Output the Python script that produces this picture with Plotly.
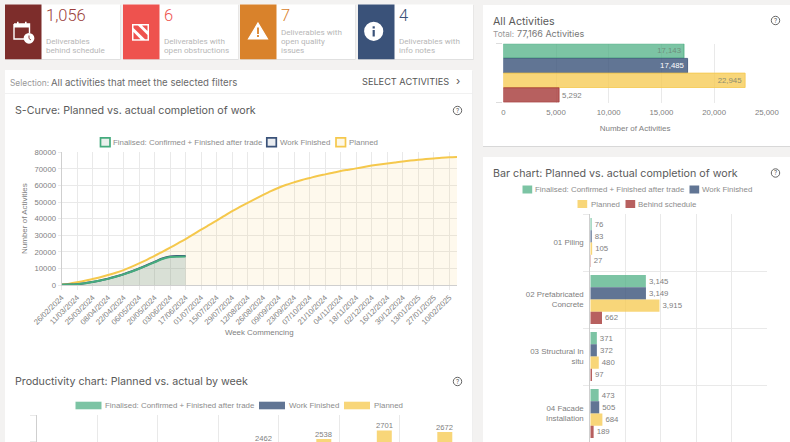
import plotly.graph_objects as go

W, H = 790, 442
CHART_FONT = "Liberation Sans"
UI_FONT = "Inter"
BODY_FONT = "Roboto"

GREEN, BLUE, YELLOW, RED = "#45ab7d", "#3a5279", "#f5c84c", "#a53837"
GREEN_BAR = "rgba(69,171,125,0.7)"
BLUE_BAR = "rgba(58,82,121,0.8)"
YELLOW_BAR = "rgba(245,200,76,0.75)"
RED_BAR = "rgba(165,56,55,0.8)"
GRID = "#e9e9e9"
AXIS = "#cfcfcf"
TICK_TXT = "#808080"

# ── data ──────────────────────────────────────────────────────────────────────
weeks = [
    "26/02/2024", "04/03/2024", "11/03/2024", "18/03/2024", "25/03/2024", "01/04/2024",
    "08/04/2024", "15/04/2024", "22/04/2024", "29/04/2024", "06/05/2024", "13/05/2024",
    "20/05/2024", "27/05/2024", "03/06/2024", "10/06/2024", "17/06/2024", "24/06/2024",
    "01/07/2024", "08/07/2024", "15/07/2024", "22/07/2024", "29/07/2024", "05/08/2024",
    "12/08/2024", "19/08/2024", "26/08/2024", "02/09/2024", "09/09/2024", "16/09/2024",
    "23/09/2024", "30/09/2024", "07/10/2024", "14/10/2024", "21/10/2024", "28/10/2024",
    "04/11/2024", "11/11/2024", "18/11/2024", "25/11/2024", "02/12/2024", "09/12/2024",
    "16/12/2024", "23/12/2024", "30/12/2024", "06/01/2025", "13/01/2025", "20/01/2025",
    "27/01/2025", "03/02/2025", "10/02/2025", "17/02/2025",
]
planned = [
    300, 800, 1600, 2500, 3600, 4700, 6000, 7400, 9000, 10900, 13000, 15200,
    17500, 20000, 22500, 25100, 27700, 30500, 33400, 36100, 38800, 41700, 44600, 47100,
    49500, 51900, 54300, 56600, 58600, 60400, 61900, 63300, 64500, 65700, 66700, 67700,
    68700, 69500, 70300, 71200, 72000, 72700, 73300, 73900, 74500, 75000, 75500, 75900,
    76300, 76700, 77000, 77166,
]
finalised = [100, 250, 500, 1000, 1800, 2700, 3700, 5000, 6400, 8000, 9800, 11700,
             13700, 15700, 16900, 17100, 17143]
work_finished = [100, 260, 520, 1030, 1850, 2760, 3780, 5100, 6520, 8140, 9960, 11900,
                 13950, 16000, 17200, 17440, 17485]

all_cat = ["All Activities"]
all_finalised = [17143]
all_finished = [17485]
all_planned = [22945]
all_behind = [5292]

trades = ["01 Piling", "02 Prefabricated<br>Concrete", "03 Structural In<br>situ", "04 Facade<br>Installation"]
trade_finalised = [76, 3145, 371, 473]
trade_finished = [83, 3149, 372, 505]
trade_planned = [105, 3915, 480, 684]
trade_behind = [27, 662, 97, 189]

prod_weeks = ["06/05/2024", "13/05/2024", "20/05/2024", "27/05/2024", "03/06/2024", "10/06/2024", "17/06/2024"]
prod_finalised = [1800, 1900, 2000, 2000, 1200, 200, 43]
prod_finished = [1820, 1940, 2050, 2050, 1200, 240, 45]
prod_planned = [2200, 2300, 2350, 2462, 2538, 2701, 2672]

tile_numbers = ["1,056", "6", "7", "4"]
tile_colors = ["#7d2d2b", "#ee524e", "#d9822b", "#3a5279"]
number_colors = ["#9c3f3c", "#ee524e", "#d9822b", "#3a5279"]
tile_lines = [
    ["Deliverables", "behind schedule"],
    ["Deliverables with", "open obstructions"],
    ["Deliverables with", "open quality", "issues"],
    ["Deliverables with", "info notes"],
]


# ── pixel helpers ─────────────────────────────────────────────────────────────
def X(v):
    return v / W


def Y(v):
    return 1 - v / H


def rect(x0, y0, x1, y1, fill, line=None, lw=0):
    return dict(type="rect", xref="paper", yref="paper", layer="below",
                x0=X(x0), x1=X(x1), y0=Y(y0), y1=Y(y1), fillcolor=fill,
                line=dict(color=line, width=lw) if line else dict(width=0))


def circle(cx, cy, r, fill, line=None, lw=0):
    return dict(type="circle", xref="paper", yref="paper", layer="below",
                x0=X(cx - r), x1=X(cx + r), y0=Y(cy - r), y1=Y(cy + r), fillcolor=fill,
                line=dict(color=line, width=lw) if line else dict(width=0))


def poly(points, fill=None, line=None, lw=0, close=True):
    d = "M" + " L".join(f"{X(a):.5f},{Y(b):.5f}" for a, b in points) + (" Z" if close else "")
    return dict(type="path", xref="paper", yref="paper", layer="below", path=d,
                fillcolor=fill if fill else "rgba(0,0,0,0)",
                line=dict(color=line, width=lw) if line else dict(width=0))


def label(x, y, text, size=9, color="#777", family=BODY_FONT, anchor="left", weight=None):
    font = dict(size=size, color=color, family=family)
    if weight:
        font["weight"] = weight
    return dict(xref="paper", yref="paper", x=X(x - 1.3 if anchor == "left" else x), y=Y(y), text=text,
                showarrow=False, xanchor=anchor, yanchor="middle", borderpad=0, font=font)


shapes, notes = [], []

# ── panels ────────────────────────────────────────────────────────────────────
shapes += [
    rect(5.5, 70.5, 473, 442, "#dedede"),
    rect(5, 70, 472.5, 442, "#ffffff"),
    rect(5, 93, 472.5, 93.7, "#ececec"),
    rect(483, 5.5, 790, 147, "#d8d8d8"),
    rect(483, 5, 790, 146, "#ffffff"),
    rect(483, 157, 790, 442, "#ffffff"),
]

# KPI tiles
tile_x = [5, 123, 240, 358]
for i, x0 in enumerate(tile_x):
    shapes.append(rect(x0 + 0.4, 5, x0 + 115.4, 60, "#d6d6d6"))
    shapes.append(rect(x0, 4.5, x0 + 115, 59.3, "#ffffff"))
    shapes.append(rect(x0, 4.5, x0 + 36.5, 59.3, tile_colors[i]))
    notes.append(label(x0 + 41, 15.5, tile_numbers[i], 16.5, number_colors[i], BODY_FONT, weight=300))
    n = len(tile_lines[i])
    for j, line_txt in enumerate(tile_lines[i]):
        notes.append(label(x0 + 41.5, 49.7 - 9 * (n - 1 - j), line_txt, 8.1, "#b7b7b7", BODY_FONT))

# calendar icon
shapes += [
    poly([(14, 24), (29.5, 24), (29.5, 33)], None, "#ffffff", 1.4, close=False),
    poly([(14, 24), (14, 39), (24, 39)], None, "#ffffff", 1.4, close=False),
    rect(14, 24, 29.5, 27.5, "#ffffff"),
    rect(17, 21.8, 18.6, 25, "#ffffff"),
    rect(25, 21.8, 26.6, 25, "#ffffff"),
    circle(29, 38.3, 5.4, "#ffffff"),
    poly([(29, 35.5), (29, 38.5), (31, 40)], None, tile_colors[0], 0.9, close=False),
]
# obstruction icon
shapes += [
    rect(132, 24, 149, 40.7, "#ffffff"),
    poly([(133.5, 25.5), (138, 25.5), (147.5, 35), (147.5, 39.2), (145, 39.2), (133.5, 28)], tile_colors[1]),
    poly([(142, 25.5), (147.5, 25.5), (147.5, 31)], tile_colors[1]),
    poly([(133.5, 32), (140.5, 39.2), (133.5, 39.2)], tile_colors[1]),
]
# warning icon
shapes += [
    poly([(258, 23), (267.5, 39), (248.5, 39)], "#ffffff", "#ffffff", 1.2),
    rect(257.1, 27.5, 258.9, 34, tile_colors[2]),
    rect(257.1, 35, 258.9, 37, tile_colors[2]),
]
# info icon
shapes += [
    circle(373.7, 31.3, 9.6, "#ffffff"),
    rect(372.6, 30, 374.8, 36.5, tile_colors[3]),
    rect(372.6, 26.3, 374.8, 28.5, tile_colors[3]),
]

# selection bar
notes += [
    label(10.5, 82.5, "Selection:", 8.4, "#999999", UI_FONT),
    label(51.5, 82, "All activities that meet the selected filters", 9.6, "#6a6a6a", UI_FONT),
    label(362, 81.5, "SELECT ACTIVITIES", 9.2, "#555555", UI_FONT),
    label(456, 81, "›", 11, "#555555", UI_FONT),
]

# titles and help marks
for x, y, t in [(15.5, 110.5, "S-Curve: Planned vs. actual completion of work"),
                (15.5, 381.5, "Productivity chart: Planned vs. actual by week"),
                (493.5, 173.5, "Bar chart: Planned vs. actual completion of work"),
                (493.5, 21, "All Activities")]:
    notes.append(label(x, y, t, 10.7, "#5a5a5a", UI_FONT))
for cx, cy in [(457.5, 110.5), (457.5, 381.5), (775.5, 173), (775.5, 20.5)]:
    shapes.append(circle(cx, cy, 4.2, "#ffffff", "#555555", 0.9))
    notes.append(label(cx, cy, "?", 6.6, "#555555", BODY_FONT, "center"))
notes += [
    label(493.5, 34, "Total:", 8.2, "#999999", UI_FONT),
    label(517.5, 34, "77,166 Activities", 9, "#777777", UI_FONT),
]

# legends drawn to sit exactly where the dashboard has them
for x0, c, fill, txt_x, t in [
    (100.5, GREEN, "#eaf0ec", 113.7, "Finalised: Confirmed + Finished after trade"),
    (266.8, BLUE, "#e9ecf0", 280.3, "Work Finished"),
    (336, YELLOW, "#fdf8e8", 349, "Planned"),
]:
    shapes.append(rect(x0, 137.8, x0 + 9.5, 146.6, fill, c, 1.7))
    notes.append(label(txt_x, 142, t, 7.9, "#8c8c8c", CHART_FONT))
for x0, c, txt_x, t in [
    (75.5, GREEN_BAR, 105, "Finalised: Confirmed + Finished after trade"),
    (259, BLUE_BAR, 289, "Work Finished"),
    (344, YELLOW_BAR, 374, "Planned"),
]:
    shapes.append(rect(x0, 401.7, x0 + 26, 409.3, c))
    notes.append(label(txt_x, 405.5, t, 7.9, "#8c8c8c", CHART_FONT))
for x0, y0, c, txt_x, t in [
    (522.5, 189.5, GREEN_BAR, 535.5, "Finalised: Confirmed + Finished after trade"),
    (689.5, 189.5, BLUE_BAR, 702.5, "Work Finished"),
    (577.5, 204, YELLOW_BAR, 591, "Planned"),
    (625.5, 204, RED_BAR, 638.5, "Behind schedule"),
]:
    shapes.append(rect(x0, y0 - 4, x0 + 9.7, y0 + 4, c))
    notes.append(label(txt_x, y0, t, 7.9, "#8c8c8c", CHART_FONT))

# productivity value labels: the panel is cut by the window, so bar text would not survive
PROD_Y_MIN, PROD_Y_MAX = 2481, 3000
prod_px_per_unit = (442 - 415) / (PROD_Y_MAX - PROD_Y_MIN)
for i, v in enumerate(prod_planned):
    y_px = 442 - (v - PROD_Y_MIN) * prod_px_per_unit - 4.8
    if y_px < 446:
        notes.append(dict(xref="x2", yref="paper", x=i + 0.25, y=Y(y_px), text=str(v), showarrow=False,
                          xanchor="center", yanchor="middle", borderpad=0,
                          font=dict(size=7.6, color=TICK_TXT, family=CHART_FONT)))

# ── traces ────────────────────────────────────────────────────────────────────
fig = go.Figure()

# S-curve
fig.add_trace(go.Scatter(x=weeks, y=planned, mode="lines", name="Planned", xaxis="x", yaxis="y",
                         line=dict(color=YELLOW, width=2, shape="spline", smoothing=0.8), fill="tozeroy",
                         fillcolor="rgba(245,200,76,0.1)", showlegend=False))
fig.add_trace(go.Scatter(x=weeks[:len(work_finished)], y=work_finished, mode="lines", name="Work Finished",
                         xaxis="x", yaxis="y", line=dict(color=BLUE, width=2, shape="spline", smoothing=0.8),
                         fill="tozeroy", fillcolor="rgba(58,82,121,0.1)", showlegend=False))
fig.add_trace(go.Scatter(x=weeks[:len(finalised)], y=finalised, mode="lines", name="Finalised",
                         xaxis="x", yaxis="y", line=dict(color=GREEN, width=2, shape="spline", smoothing=0.8),
                         fill="tozeroy", fillcolor="rgba(69,171,125,0.1)", showlegend=False))

# productivity: width/offset set per trace because bargap is shared across the layout
for i, (vals, col, nm) in enumerate([(prod_finalised, GREEN_BAR, "Finalised"),
                                     (prod_finished, BLUE_BAR, "Work Finished"),
                                     (prod_planned, YELLOW_BAR, "Planned")]):
    fig.add_trace(go.Bar(x=prod_weeks, y=vals, name=nm, xaxis="x2", yaxis="y2", marker_color=col,
                         width=0.2475, offset=-0.375 + i * 0.25, showlegend=False))

# all activities
for i, (vals, col, edge, nm, pos, tcol) in enumerate([
    (all_finalised, GREEN_BAR, GREEN, "Finalised", "inside", "#6f8f7c"),
    (all_finished, BLUE_BAR, BLUE, "Work Finished", "inside", "#ffffff"),
    (all_planned, YELLOW_BAR, YELLOW, "Planned", "inside", "#8d8d70"),
    (all_behind, RED_BAR, RED, "Behind schedule", "outside", TICK_TXT),
]):
    fig.add_trace(go.Bar(y=all_cat, x=vals, name=nm, orientation="h", xaxis="x3", yaxis="y3",
                         marker=dict(color=col, line=dict(color=edge, width=0.8)),
                         width=0.245, offset=-0.5 + i * 0.25, showlegend=False,
                         text=[f"{v:,}" for v in vals], textposition=pos, insidetextanchor="end",
                         constraintext="none", cliponaxis=False,
                         textfont=dict(size=7.8, color=tcol, family=CHART_FONT)))

# bar chart by trade
for vals, col, nm in [(trade_finalised, GREEN_BAR, "Finalised"),
                      (trade_finished, BLUE_BAR, "Work Finished"),
                      (trade_planned, YELLOW_BAR, "Planned"),
                      (trade_behind, RED_BAR, "Behind schedule")]:
    fig.add_trace(go.Bar(y=trades, x=vals, name=nm, orientation="h", xaxis="x4", yaxis="y4",
                         marker_color=col, showlegend=False, cliponaxis=False,
                         text=[f"{v:,}" for v in vals], textposition="outside", constraintext="none",
                         textfont=dict(size=7.8, color=TICK_TXT, family=CHART_FONT)))

# ── layout ────────────────────────────────────────────────────────────────────
fig.update_layout(
    template="none",
    width=W, height=H, autosize=False,
    margin=dict(l=0, r=0, t=0, b=0, pad=0),
    paper_bgcolor="#f3f2f1", plot_bgcolor="rgba(0,0,0,0)",
    barmode="group", bargap=0.14, bargroupgap=0,
    font=dict(family=CHART_FONT, color=TICK_TXT, size=8),
    shapes=shapes, annotations=notes,
    # S-curve
    xaxis=dict(domain=[X(61.5), X(457)], anchor="y", type="category", categoryorder="array",
               categoryarray=weeks, range=[0, 51], tickmode="array", tickvals=weeks[::2],
               ticktext=weeks[::2], tickangle=-45, showgrid=True, gridcolor=GRID, gridwidth=0.8,
               ticks="outside", ticklen=4, tickcolor=GRID, showline=True, linecolor=AXIS,
               automargin=False, tickfont=dict(size=7.7, color=TICK_TXT),
               title=dict(text="Week Commencing", font=dict(size=7.9, color=TICK_TXT), standoff=3)),
    yaxis=dict(domain=[Y(285), Y(152.3)], anchor="x", range=[0, 80000], dtick=10000,
               tickformat="d", showgrid=True, gridcolor=GRID, gridwidth=0.8, zeroline=False,
               ticks="outside", ticklen=3, tickcolor=GRID, showline=True, linecolor=AXIS,
               automargin=False, tickfont=dict(size=7.7, color=TICK_TXT),
               title=dict(text="Number of Activities", font=dict(size=8, color=TICK_TXT), standoff=5)),
    # productivity
    xaxis2=dict(domain=[X(36.5), X(460)], anchor="y2", type="category", range=[-0.5, 6.5],
                tickson="boundaries", showticklabels=False, showgrid=True, gridcolor=GRID,
                gridwidth=0.8, ticks="", showline=False, automargin=False),
    yaxis2=dict(domain=[0, Y(415)], anchor="x2", range=[PROD_Y_MIN, PROD_Y_MAX], dtick=500, showgrid=True,
                gridcolor=GRID, gridwidth=0.8, zeroline=False, showticklabels=False, ticks="outside",
                ticklen=6, tickcolor=GRID, showline=True, linecolor=AXIS, automargin=False),
    # all activities
    xaxis3=dict(domain=[X(503.3), X(766.8)], anchor="y3", range=[0, 25000], dtick=5000, tickformat=",d",
                showgrid=True, gridcolor=GRID, gridwidth=0.8, zeroline=False, ticks="", automargin=False,
                ticklabelstandoff=4, tickfont=dict(size=7.8, color=TICK_TXT),
                title=dict(text="Number of Activities", font=dict(size=8, color=TICK_TXT), standoff=9)),
    yaxis3=dict(domain=[Y(102.5), Y(43.7)], anchor="x3", type="category", range=[0.5, -0.5],
                tickson="boundaries", showticklabels=False, showgrid=True, automargin=False,
                gridcolor="#dddddd", ticks="outside", ticklen=6, tickcolor="#dddddd", showline=False),
    # bar chart
    xaxis4=dict(domain=[X(590.3), X(767)], anchor="y4", range=[0, 10000], dtick=2000,
                showticklabels=False, showgrid=True, gridcolor=GRID, gridwidth=0.8, zeroline=False,
                ticks="", showline=False, automargin=False),
    yaxis4=dict(domain=[0, Y(214)], anchor="x4", type="category", categoryorder="array", categoryarray=trades,
                range=[3.5, -0.5], tickson="boundaries", showgrid=True, gridcolor=GRID, gridwidth=0.8,
                ticks="outside", ticklen=6, tickcolor=GRID, showline=True, linecolor=AXIS, automargin=False,
                ticklabelstandoff=4, tickfont=dict(size=7.9, color=TICK_TXT)),
)

fig.write_html("out.html", config={"displayModeBar": False},
               post_script="document.body.style.margin='0';document.body.style.overflow='hidden';")
